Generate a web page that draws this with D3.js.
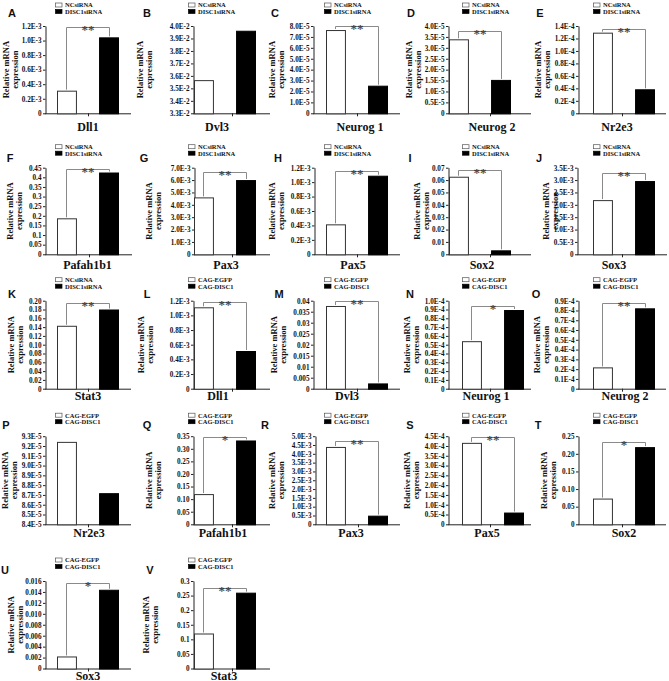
<!DOCTYPE html>
<html><head><meta charset="utf-8">
<script src="https://cdn.jsdelivr.net/npm/d3@7"></script>
<style>body{margin:0;background:#fff} svg{display:block}</style>
</head><body><svg id="c" width="669" height="681"></svg>
<script>
// ---------- DATA ----------
const panelLetters = ["A","B","C","D","E","F","G","H","I","J","K","L","M","N","O","P","Q","R","S","T","U","V"];
const genes = ["Dll1","Dvl3","Neurog 1","Neurog 2","Nr2e3","Pafah1b1","Pax3","Pax5","Sox2","Sox3","Stat3",
               "Dll1","Dvl3","Neurog 1","Neurog 2","Nr2e3","Pafah1b1","Pax3","Pax5","Sox2","Sox3","Stat3"];
const legendSiRNA = ["NCsiRNA","DISC1siRNA"];
const legendCAG = ["CAG-EGFP","CAG-DISC1"];
const legendGroup = [0,0,0,0,0,0,0,0,0,0,0,1,1,1,1,1,1,1,1,1,1,1];
const controlValues = [0.311e-3,3.566e-2,7.63e-5,3.39e-5,1.293e-4,0.187,4.60e-3,0.415e-3,0.0627,2.19e-3,0.143,
                       1.11e-3,0.0376,0.54e-4,0.218e-4,9.242e-5,0.120,4.39e-3,4.16e-4,0.073,0.0022,0.12];
const treatedValues = [1.044e-3,3.962e-2,2.53e-5,1.53e-5,0.385e-4,0.425,6.0e-3,1.089e-3,0.0032,2.96e-3,0.180,
                       0.514e-3,0.0024,0.894e-4,0.822e-4,8.718e-5,0.333,0.49e-3,0.60e-4,0.219,0.0144,0.26];
const significance = ["**","","**","**","**","**","**","**","**","**","**",
                      "**","**","*","**","","*","**","**","*","*","**"];
const bracketLevels = [1.19e-3,null,8.0e-5,3.77e-5,1.35e-4,0.443,6.62e-3,1.154e-3,0.0681,3.27e-3,0.195,
                       1.186e-3,0.040,0.939e-4,0.873e-4,null,0.346,4.71e-3,4.45e-4,0.234,0.0157,0.276];
const yMin = [0,3.3e-2,0,0,0,0,0,0,0,0,0, 0,0,0,0,8.4e-5,0,0,0,0,0,0];
const yMax = [1.2e-3,4.0e-2,8e-5,4e-5,1.4e-4,0.45,7e-3,1.2e-3,0.07,3.5e-3,0.20,
              1.2e-3,0.04,1.0e-4,0.9e-4,9.3e-5,0.35,5e-3,4.5e-4,0.25,0.016,0.3];
const tickLabels = [
  ["0","0.2E-3","0.4E-3","0.6E-3","0.8E-3","1.0E-3","1.2E-3"],
  ["3.3E-2","3.4E-2","3.5E-2","3.6E-2","3.7E-2","3.8E-2","3.9E-2","4.0E-2"],
  ["0","1.0E-5","2.0E-5","3.0E-5","4.0E-5","5.0E-5","6.0E-5","7.0E-5","8.0E-5"],
  ["0","0.5E-5","1.0E-5","1.5E-5","2.0E-5","2.5E-5","3.0E-5","3.5E-5","4.0E-5"],
  ["0","0.2E-4","0.4E-4","0.6E-4","0.8E-4","1.0E-4","1.2E-4","1.4E-4"],
  ["0","0.05","0.1","0.15","0.2","0.25","0.3","0.35","0.4","0.45"],
  ["0","1.0E-3","2.0E-3","3.0E-3","4.0E-3","5.0E-3","6.0E-3","7.0E-3"],
  ["0","0.2E-3","0.4E-3","0.6E-3","0.8E-3","1.0E-3","1.2E-3"],
  ["0","0.01","0.02","0.03","0.04","0.05","0.06","0.07"],
  ["0","0.5E-3","1.0E-3","1.5E-3","2.0E-3","2.5E-3","3.0E-3","3.5E-3"],
  ["0","0.02","0.04","0.06","0.08","0.10","0.12","0.14","0.16","0.18","0.20"],
  ["0","0.2E-3","0.4E-3","0.6E-3","0.8E-3","1.0E-3","1.2E-3"],
  ["0","0.005","0.01","0.015","0.02","0.025","0.03","0.035","0.04"],
  ["0","0.1E-4","0.2E-4","0.3E-4","0.4E-4","0.5E-4","0.6E-4","0.7E-4","0.8E-4","0.9E-4","1.0E-4"],
  ["0","0.1E-4","0.2E-4","0.3E-4","0.4E-4","0.5E-4","0.6E-4","0.7E-4","0.8E-4","0.9E-4"],
  ["8.4E-5","8.5E-5","8.6E-5","8.7E-5","8.8E-5","8.9E-5","9.0E-5","9.1E-5","9.2E-5","9.3E-5"],
  ["0","0.05","0.10","0.15","0.20","0.25","0.30","0.35"],
  ["0","0.5E-3","1.0E-3","1.5E-3","2.0E-3","2.5E-3","3.0E-3","3.5E-3","4.0E-3","4.5E-3","5.0E-3"],
  ["0","0.5E-4","1.0E-4","1.5E-4","2.0E-4","2.5E-4","3.0E-4","3.5E-4","4.0E-4","4.5E-4"],
  ["0","0.05","0.10","0.15","0.20","0.25"],
  ["0","0.002","0.004","0.006","0.008","0.010","0.012","0.014","0.016"],
  ["0","0.05","0.1","0.15","0.2","0.25","0.3"]
];
const yLabelLines = ["Relative mRNA","expression"];

// ---------- LAYOUT ----------
const rows = [
  {top:26,  zero:113.3, letterY:13,  catDy:18},
  {top:167.7, zero:254.3, letterY:158, catDy:15},
  {top:300.7, zero:388.7, letterY:294, catDy:11.5},
  {top:436.2, zero:524.3, letterY:425, catDy:12.5},
  {top:581,  zero:668.5, letterY:570, catDy:11}
];
const legendX = [55,188,324,462,593];
// [row, axisX, axisEnd, barStart, letterX, yLabelX, catX]
const layout = [
  [0,45,131,57,12,6,88],[0,193,270,194,147,140,217],[0,313,400,326,275,272,360],[0,448,531,449,411,409,492],[0,578,666,593,540,538,617],
  [1,45,132,57,10,10,87.5],[1,194,270,194,144,149,226],[1,314,400,326,278,272,353],[1,448,531,449,410,417,482],[1,577,667,593,539,546,614],
  [2,45,131,57,12,11,88],[2,193,270,194,147,141,218],[2,313,400,326,279,274,347],[2,448,531,462,410,407,486],[2,578,666,593,536,537,625],
  [3,45,131,57,6,5,89],[3,193,270,194,147,149,223],[3,315,400,326,265,272,351],[3,448,531,462,410,407,487],[3,578,666,593,538,544,624],
  [4,45,131,57,5,11,88],[4,193,270,194,150,146,224]
];

const serif = "'Liberation Serif','Times New Roman',serif";
const sans = "'Liberation Sans',Arial,sans-serif";
const svg = d3.select("#c");

panelLetters.forEach((letter, i) => {
  const [r, ax, axEnd, bx, letX, lx, catX] = layout[i];
  const row = rows[r];
  const col = i % 5;
  const g = svg.append("g");

  const y = d3.scaleLinear().domain([yMin[i], yMax[i]]).range([row.zero, row.top]);
  const x = d3.scaleBand().domain(["ctrl","trt"]).range([bx, bx + 61]).paddingInner(0.55);

  // panel letter
  g.append("text").attr("x", letX).attr("y", row.letterY + 4)
    .attr("text-anchor","middle").attr("font-family", sans).attr("font-weight","bold")
    .attr("font-size", 11).attr("fill","#111").text(letter);

  // legend
  const leg = legendGroup[i] === 0 ? legendSiRNA : legendCAG;
  leg.forEach((t, k) => {
    const cy = row.top - 21 + k * 6.5;
    g.append("rect").attr("x", legendX[col] + 0.5).attr("y", cy - 2).attr("width", 6.5).attr("height", 4)
      .attr("fill", k === 0 ? "#fff" : "#000").attr("stroke", k === 0 ? "#555" : "#000").attr("stroke-width", 0.7);
    g.append("text").attr("x", legendX[col] + 10).attr("y", cy + 2.3)
      .attr("font-family", serif).attr("font-weight","bold").attr("font-size", 6.5).attr("fill","#111").text(t);
  });

  // y axis
  const labels = tickLabels[i];
  const tv = labels.map((_, k) => yMin[i] + k * (yMax[i] - yMin[i]) / (labels.length - 1));
  const yAxis = d3.axisLeft(y).tickValues(tv).tickFormat((d, k) => labels[k]).tickSize(2.5).tickSizeOuter(0).tickPadding(1.5);
  const ya = g.append("g").attr("transform", `translate(${ax + 0.5},0)`).call(yAxis);
  ya.select(".domain").attr("stroke","#222").attr("stroke-width",1);
  ya.selectAll(".tick line").attr("stroke","#222");
  ya.selectAll(".tick text").attr("font-family", serif).attr("font-weight","bold").attr("font-size", 7.2).attr("fill","#111");

  // x axis
  g.append("line").attr("x1", ax).attr("x2", axEnd).attr("y1", row.zero + 0.5).attr("y2", row.zero + 0.5)
    .attr("stroke","#222").attr("stroke-width",1);
  const mid = Math.round((ax + axEnd) / 2) + 0.5;
  g.append("line").attr("x1", mid).attr("x2", mid).attr("y1", row.zero).attr("y2", row.zero + 3)
    .attr("stroke","#222").attr("stroke-width",1);

  // bars
  const vals = [controlValues[i], treatedValues[i]];
  ["ctrl","trt"].forEach((k, j) => {
    g.append("rect").attr("x", x(k) + 0.5).attr("y", y(vals[j]) + 0.5)
      .attr("width", x.bandwidth()).attr("height", row.zero - y(vals[j]))
      .attr("fill", j === 0 ? "#fff" : "#000").attr("stroke", j === 0 ? "#333" : "#000").attr("stroke-width", 1);
  });

  // significance bracket
  if (significance[i]) {
    const by = Math.round(y(bracketLevels[i])) + 0.5;
    const c1 = Math.round(x("ctrl") + x.bandwidth() / 2) + 0.5;
    const c2 = Math.round(x("trt") + x.bandwidth() / 2) + 0.5;
    g.append("path")
      .attr("d", `M${c1},${y(vals[0]) - 1}V${by}H${c2}V${y(vals[1]) - 1}`)
      .attr("fill","none").attr("stroke","#8a8a8a").attr("stroke-width",1);
    g.append("text").attr("x", (c1 + c2) / 2).attr("y", by + 6)
      .attr("text-anchor","middle").attr("font-family", serif).attr("font-weight","bold")
      .attr("font-size", 13).attr("fill","#222").attr("opacity", 0.8).text(significance[i]);
  }

  // y label
  yLabelLines.forEach((t, k) => {
    g.append("text").attr("transform", `translate(${lx + 2.5 + k * 9.5},${(row.top + row.zero) / 2}) rotate(-90)`)
      .attr("text-anchor","middle").attr("font-family", serif).attr("font-weight","bold")
      .attr("font-size", 8.5).attr("fill","#111").text(t);
  });

  // category label
  g.append("text").attr("x", catX).attr("y", row.zero + row.catDy)
    .attr("text-anchor","middle").attr("font-family", serif).attr("font-weight","bold")
    .attr("font-size", 12).attr("fill","#111").text(genes[i]);
});
</script>
</body></html>
